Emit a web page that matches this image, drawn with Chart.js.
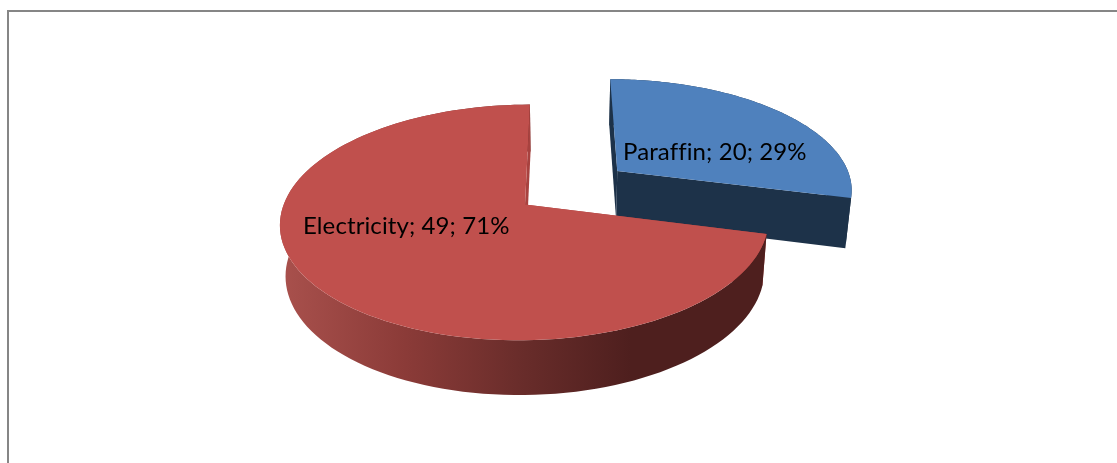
<!DOCTYPE html>
<html>
<head>
<meta charset="utf-8">
<script src="https://cdn.jsdelivr.net/npm/chart.js@4"></script>
<style>
  html, body { margin: 0; padding: 0; background: #fff; }
  canvas { display: block; }
</style>
</head>
<body>
<canvas id="pie3d" width="1117" height="463"></canvas>
<script>
// Data
const categories = ['Paraffin', 'Electricity'];
const values = [20, 49];

// Look of the slices
const topColors = ['#4f81bd', '#c0504d'];
const cutColors = ['#1d3249', '#a8423f'];

// Perspective of the pie plane
const view = { xc: 562, yc: 191, a: 237, b: 111, k: 0.15, depth: 50, taper: 0.02 };

function project(u, v, z) {
  const w = 1 + view.k * v;
  const x = view.xc + view.a * u / w;
  const y = view.yc - view.b * v / w + view.depth * z / Math.sqrt(w);
  return [view.xc + (x - view.xc) * (1 - view.taper * z), y];
}

function rimPoints(arc, z) {
  const mid = (arc.startAngle + arc.endAngle) / 2;
  const off = arc.options.offset / arc.outerRadius;
  const pts = [];
  const steps = 120;
  for (let i = 0; i <= steps; i++) {
    const a = arc.startAngle + (arc.endAngle - arc.startAngle) * i / steps;
    pts.push(project(Math.cos(a) + off * Math.cos(mid), -Math.sin(a) - off * Math.sin(mid), z));
  }
  return pts;
}

function apexPoint(arc, z) {
  const mid = (arc.startAngle + arc.endAngle) / 2;
  const off = arc.options.offset / arc.outerRadius;
  return project(off * Math.cos(mid), -off * Math.sin(mid), z);
}

function fillPoly(ctx, pts, color) {
  ctx.beginPath();
  pts.forEach((p, i) => i ? ctx.lineTo(p[0], p[1]) : ctx.moveTo(p[0], p[1]));
  ctx.closePath();
  ctx.fillStyle = color;
  ctx.fill();
}

function wallGradient(ctx, index) {
  if (index === 0) return '#1d3249';
  const g = ctx.createLinearGradient(285, 0, 765, 0);
  g.addColorStop(0, '#a8504c');
  g.addColorStop(0.25, '#8b3b38');
  g.addColorStop(0.5, '#682c2a');
  g.addColorStop(0.72, '#4e1f1e');
  g.addColorStop(1, '#4e1f1e');
  return g;
}

const pie3dPlugin = {
  id: 'pie3d',
  beforeDatasetsDraw(chart) {
    const ctx = chart.ctx;
    const arcs = chart.getDatasetMeta(0).data;
    arcs.forEach((arc, i) => {
      const top = rimPoints(arc, 0);
      const bottom = rimPoints(arc, 1);
      const a0 = apexPoint(arc, 0);
      const a1 = apexPoint(arc, 1);
      const startCut = [a0, top[0], bottom[0], a1];
      const endCut = [a0, top[top.length - 1], bottom[bottom.length - 1], a1];
      const startBack = Math.cos(arc.startAngle) > 0.001;
      const endBack = Math.cos(arc.endAngle) < -0.001;
      // cut faces turned away go under the wall
      if (startBack) fillPoly(ctx, startCut, cutColors[i]);
      if (endBack) fillPoly(ctx, endCut, cutColors[i]);
      fillPoly(ctx, top.concat(bottom.slice().reverse()), wallGradient(ctx, i));
      if (!startBack) fillPoly(ctx, startCut, cutColors[i]);
      if (!endBack) fillPoly(ctx, endCut, cutColors[i]);
      // top face
      fillPoly(ctx, [a0].concat(top), topColors[i]);
    });
    return false;
  },
  afterDraw(chart) {
    const ctx = chart.ctx;
    const total = values.reduce((s, v) => s + v, 0);
    const anchors = [[623, 160], [303, 234]];
    ctx.fillStyle = '#000';
    ctx.font = '24px Lato';
    ctx.letterSpacing = '0.1px'; // keeps the ffi from turning into a ligature
    ctx.textBaseline = 'alphabetic';
    categories.forEach((c, i) => {
      const pct = Math.round(values[i] / total * 100);
      ctx.fillText(`${c}; ${values[i]}; ${pct}%`, anchors[i][0], anchors[i][1]);
    });
    // chart frame, open on the right and at the bottom
    ctx.strokeStyle = '#868686';
    ctx.lineWidth = 2;
    ctx.beginPath();
    ctx.moveTo(8, 463);
    ctx.lineTo(8, 11);
    ctx.lineTo(1117, 11);
    ctx.stroke();
  }
};

new Chart('pie3d', {
  type: 'pie',
  data: {
    labels: categories,
    datasets: [{ data: values, backgroundColor: topColors, offset: [61, 39], borderWidth: 0 }]
  },
  options: {
    responsive: false,
    animation: false,
    plugins: { legend: { display: false }, tooltip: { enabled: false } }
  },
  plugins: [pie3dPlugin]
});
</script>
</body>
</html>
